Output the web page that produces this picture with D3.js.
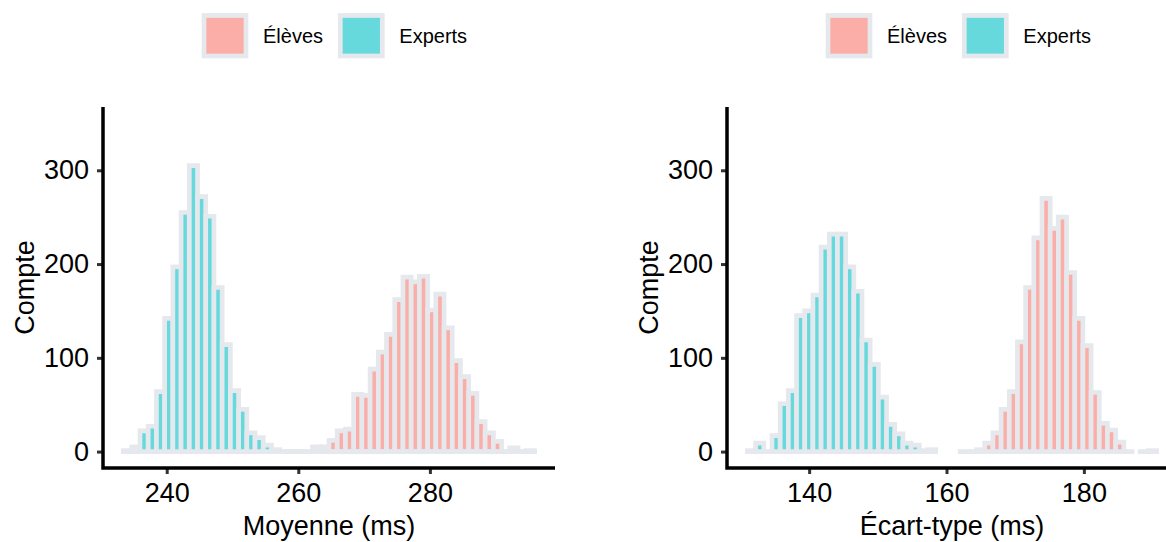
<!DOCTYPE html>
<html>
<head>
<meta charset="utf-8">
<script src="https://cdn.jsdelivr.net/npm/d3@7"></script>
<style>
  body { margin: 0; background: #fff; }
  svg { display: block; font-family: "Liberation Sans", Arial, sans-serif; }
</style>
</head>
<body>
<svg id="chart" width="1166" height="542"></svg>
<script>
// groups and colours
const groups = ['Élèves', 'Experts'];
const groupFill = ['#fbada7', '#66d9dc'];
const yTicks = [0, 100, 200, 300];

// Moyenne (ms): 50 bins, counts per bin (null = bin not drawn)
const meanBinStart = 233.44;
const meanBinWidth = 1.249;
const meanTicks = [240, 260, 280];
const meanEleves = [0, 0, 0, 0, 0, 0, 0, 0, 0, 0, 0, 0, 0, 0, 0, 0, 0, 0, 0, 0, 0, 0, 0,
  5, 5, 12, 22, 24, 61, 60, 88, 106, 125, 162, 186, 181, 187, 151, 168, 132, 97, 80, 62, 32, 20, 11, 0, 4, 0, 1];
const meanExperts = [1, 5, 22, 27, 64, 142, 197, 255, 305, 272, 251, 175, 114, 65, 45, 20, 15, 7, 2,
  0, 0, 0, 0, 0, 0, 0, 0, 0, 0, 0, 0, 0, 0, 0, 0, 0, 0, 0, 0, 0, 0, 0, 0, 0, 0, 0, 0, 0, 0, 0];

// Écart-type (ms): 50 bins
const sdBinStart = 131.02;
const sdBinWidth = 1.1912;
const sdTicks = [140, 160, 180];
const sdEleves = [null, null, null, null, null, null, null, null, null, null, null, null, null,
  null, null, null, null, null, null, null, null, null, null, null, null, null,
  0, 0, 2, 9, 20, 45, 64, 117, 175, 228, 270, 238, 250, 191, 142, 113, 63, 30, 23, 10, 0, null, 0, 1];
const sdExperts = [1, 9, 0, 17, 51, 65, 145, 150, 167, 218, 232, 232, 197, 171, 119, 93, 58, 29, 19, 9, 7, 1, 2,
  null, null, null, null, null, null, null, null, null, null, null, null, null, null,
  null, null, null, null, null, null, null, null, null, null, null, null, null, null];

const svg = d3.select('#chart');
const binStroke = '#e5e8ec';
const binStrokeW = 4.7;

const y = d3.scaleLinear().domain([-17.5, 367.5]).range([468, 107]);

const panels = [
  { left: 103, right: 555, start: meanBinStart, width: meanBinWidth, ticks: meanTicks,
    series: [meanEleves, meanExperts], title: 'Moyenne (ms)' },
  { left: 727, right: 1177, start: sdBinStart, width: sdBinWidth, ticks: sdTicks,
    series: [sdEleves, sdExperts], title: 'Écart-type (ms)' }
];

panels.forEach(p => {
  const nBins = p.series[0].length;
  const span = nBins * p.width;
  const x = d3.scaleLinear()
    .domain([p.start - 0.05 * span, p.start + span + 0.05 * span])
    .range([p.left, p.right]);

  const g = svg.append('g');

  // histogram bins
  p.series.forEach((counts, gi) => {
    counts.forEach((c, i) => {
      if (c === null) return;
      const x0 = x(p.start + i * p.width);
      const x1 = x(p.start + (i + 1) * p.width);
      if (c > 0) {
        g.append('path')
          .attr('d', `M${x0},${y(0)}V${y(c)}H${x1}V${y(0)}Z`)
          .attr('fill', groupFill[gi])
          .attr('stroke', binStroke)
          .attr('stroke-width', binStrokeW)
          .attr('stroke-linejoin', 'miter');
      } else {
        g.append('line')
          .attr('x1', x0).attr('x2', x1)
          .attr('y1', y(0)).attr('y2', y(0))
          .attr('stroke', binStroke)
          .attr('stroke-width', binStrokeW)
          .attr('stroke-linecap', 'square');
      }
    });
  });

  // axes
  const xAxis = g.append('g')
    .attr('transform', `translate(0,${y.range()[0]})`)
    .call(d3.axisBottom(x).tickValues(p.ticks).tickSize(6).tickPadding(9));
  const yAxis = g.append('g')
    .attr('transform', `translate(${p.left},0)`)
    .call(d3.axisLeft(y).tickValues(yTicks).tickSize(6).tickPadding(8));

  [xAxis, yAxis].forEach(a => {
    a.select('.domain').remove();
    a.selectAll('.tick line').attr('stroke', '#333').attr('stroke-width', 3);
    a.selectAll('.tick text')
      .attr('fill', '#000')
      .style('font-size', '27px')
      .style('font-family', '"Liberation Sans", Arial, sans-serif');
  });

  // axis lines
  g.append('path')
    .attr('d', `M${p.left},${y.range()[1]}V${y.range()[0]}H${p.right}`)
    .attr('fill', 'none')
    .attr('stroke', '#000')
    .attr('stroke-width', 3.5)
    .attr('stroke-linejoin', 'miter');

  // axis titles
  g.append('text')
    .attr('x', (p.left + Math.min(p.right, 1177)) / 2)
    .attr('y', 535)
    .attr('text-anchor', 'middle')
    .style('font-size', '27px')
    .text(p.title);

  g.append('text')
    .attr('transform', `translate(${p.left - 69},${(y.range()[0] + y.range()[1]) / 2}) rotate(-90)`)
    .attr('text-anchor', 'middle')
    .style('font-size', '27px')
    .text('Compte');

  // legend
  const legendX = p.left + 101;
  const legend = g.append('g').attr('transform', `translate(${legendX},15.5)`);
  const keyOffsets = [0, 136.3];
  groups.forEach((name, gi) => {
    legend.append('rect')
      .attr('x', keyOffsets[gi]).attr('y', 0)
      .attr('width', 42).attr('height', 40.5)
      .attr('fill', groupFill[gi])
      .attr('stroke', binStroke)
      .attr('stroke-width', binStrokeW);
    legend.append('text')
      .attr('x', keyOffsets[gi] + 59)
      .attr('y', 27.8)
      .style('font-size', '20px')
      .text(name);
  });
});
</script>
</body>
</html>
